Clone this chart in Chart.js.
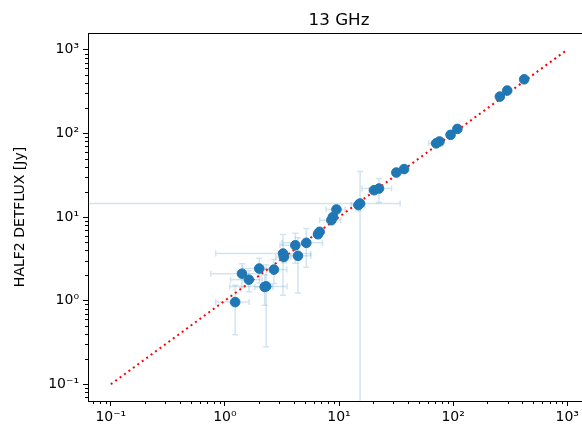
<!DOCTYPE html>
<html>
<head>
<meta charset="utf-8">
<script src="https://cdn.jsdelivr.net/npm/chart.js@4/dist/chart.umd.min.js"></script>
<style>
html, body { margin: 0; padding: 0; background: #fff; overflow: hidden; }
#wrap { position: relative; width: 582px; height: 432px; overflow: hidden; }
#fluxChart { display: block; }
</style>
</head>
<body>
<div id="wrap"><canvas id="fluxChart" width="600" height="432"></canvas></div>
<script>
// catalogue flux (x) vs HALF2 DETFLUX (y), Jy
var fluxX = [420, 298, 257, 109, 95, 76, 71, 37.2, 31.8, 22.4, 20.3, 15.3, 14.8, 9.5, 8.86, 8.57, 6.76, 6.54, 5.17, 4.14, 4.37, 3.23, 3.29, 2.69, 2.0, 1.41, 1.62, 2.3, 2.23, 1.23];
var fluxY = [443, 325, 275, 113, 96, 80, 76, 37.4, 34, 21.9, 20.9, 14.5, 13.9, 12.3, 10.0, 9.16, 6.65, 6.22, 4.91, 4.59, 3.43, 3.66, 3.33, 2.35, 2.42, 2.1, 1.78, 1.48, 1.46, 0.96];
var errX = [4, 5, 5, 3, 3, 3, 10, 2, 2, 6.5, 2, 19, 2, 1.8, 0.8, 1.8, 0.6, 0.5, 2, 1.1, 1.3, 2.4, 0.5, 0.8, 0.57, 0.66, 0.5, 1.2, 0.4, 0.4];
var errY = [4, 5, 5, 3, 3, 3, 3, 2, 2, 7, 2, 20.5, 2, 1, 0.8, 1, 0.6, 0.5, 2.4, 1.8, 2.2, 2.5, 0.5, 0.75, 0.8, 0.67, 0.5, 1.2, 0.58, 0.57];

// one-to-one line
var lineX = [0.1, 1000];

var decadeLabels = {'-1': '10⁻¹', '0': '10⁰', '1': '10¹', '2': '10²', '3': '10³'};
var axisMin = Math.pow(10, -1.2);
var axisMax = Math.pow(10, 3.2);

function logTicks(scale) {
    var t = [];
    for (var d = -2; d <= 3; d++) {
        for (var m = 1; m <= 9; m++) {
            var v = m * Math.pow(10, d);
            if (v >= axisMin && v <= axisMax) t.push({value: v, major: m === 1});
        }
    }
    scale.ticks = t;
}

function tickLabel(value, index, ticks) {
    if (!ticks[index].major) return '';
    return decadeLabels[String(Math.round(Math.log10(value)))] || '';
}

var errorBars = {
    id: 'errorBars',
    beforeDatasetsDraw: function(chart) {
        var c = chart.ctx, xs = chart.scales.x, ys = chart.scales.y, a = chart.chartArea;
        c.save();
        c.beginPath();
        c.rect(a.left, a.top, a.right - a.left, a.bottom - a.top);
        c.clip();
        c.strokeStyle = 'rgba(31,119,180,0.2)';
        c.lineWidth = 1.5;
        var cap = 3;
        for (var i = 0; i < fluxX.length; i++) {
            var x = xs.getPixelForValue(fluxX[i]);
            var y = ys.getPixelForValue(fluxY[i]);
            var lo, hi;
            // horizontal
            lo = fluxX[i] - errX[i];
            hi = xs.getPixelForValue(fluxX[i] + errX[i]);
            var x0 = lo > 0 ? xs.getPixelForValue(lo) : a.left - 10;
            c.beginPath();
            c.moveTo(x0, y); c.lineTo(hi, y);
            c.moveTo(hi, y - cap); c.lineTo(hi, y + cap);
            if (lo > 0) { c.moveTo(x0, y - cap); c.lineTo(x0, y + cap); }
            c.stroke();
            // vertical
            lo = fluxY[i] - errY[i];
            hi = ys.getPixelForValue(fluxY[i] + errY[i]);
            var y0 = lo > 0 ? ys.getPixelForValue(lo) : a.bottom + 10;
            c.beginPath();
            c.moveTo(x, y0); c.lineTo(x, hi);
            c.moveTo(x - cap, hi); c.lineTo(x + cap, hi);
            if (lo > 0) { c.moveTo(x - cap, y0); c.lineTo(x + cap, y0); }
            c.stroke();
        }
        c.restore();
    },
    afterDraw: function(chart) {
        var c = chart.ctx, xs = chart.scales.x, ys = chart.scales.y, a = chart.chartArea;
        c.save();
        c.strokeStyle = '#000';
        c.lineWidth = 1;
        // minor ticks
        c.beginPath();
        xs.ticks.forEach(function(t) {
            if (t.major) return;
            var p = Math.round(xs.getPixelForValue(t.value)) + 0.5;
            c.moveTo(p, a.bottom); c.lineTo(p, a.bottom + 3);
        });
        ys.ticks.forEach(function(t) {
            if (t.major) return;
            var p = Math.round(ys.getPixelForValue(t.value)) + 0.5;
            c.moveTo(a.left, p); c.lineTo(a.left - 3, p);
        });
        c.stroke();
        // top spine (right spine falls outside the picture)
        c.beginPath();
        c.moveTo(a.left, a.top + 0.5); c.lineTo(a.right, a.top + 0.5);
        c.stroke();
        // title over the axes
        c.fillStyle = '#000';
        c.font = '16.7px "DejaVu Sans"';
        c.textAlign = 'center';
        c.textBaseline = 'alphabetic';
        c.fillText('13 GHz', (a.left + a.right) / 2, 24.5);
        c.restore();
    }
};

Chart.defaults.font.family = '"DejaVu Sans", sans-serif';
Chart.defaults.font.size = 14;
Chart.defaults.color = '#000';

var ctx = document.getElementById('fluxChart').getContext('2d');
var chart = new Chart(ctx, {
    type: 'scatter',
    data: {
        datasets: [{
            label: 'sources',
            data: fluxX.map(function(v, i) { return {x: v, y: fluxY[i]}; }),
            backgroundColor: '#1f77b4',
            borderColor: '#1f77b4',
            borderWidth: 1,
            pointRadius: 4.8,
            order: 1
        }, {
            label: '1:1',
            data: lineX.map(function(v) { return {x: v, y: v}; }),
            showLine: true,
            borderColor: '#ff0000',
            borderWidth: 2,
            borderDash: [2, 3.5],
            pointRadius: 0,
            order: 2
        }]
    },
    options: {
        responsive: false,
        animation: false,
        events: [],
        layout: {
            padding: {top: 33, right: 10, left: 0, bottom: 0}
        },
        plugins: {
            legend: {display: false},
            tooltip: {enabled: false}
        },
        scales: {
            x: {
                type: 'logarithmic',
                min: axisMin,
                max: axisMax,
                afterBuildTicks: logTicks,
                afterFit: function(s) { s.height = 31; },
                border: {display: true, color: '#000', width: 1},
                grid: {drawOnChartArea: false, drawTicks: true, tickLength: 5, tickColor: function(c) { return c.tick && c.tick.major ? '#000' : 'rgba(0,0,0,0)'; }},
                ticks: {autoSkip: false, maxRotation: 0, padding: 3, callback: tickLabel}
            },
            y: {
                type: 'logarithmic',
                min: axisMin,
                max: axisMax,
                afterBuildTicks: logTicks,
                afterFit: function(s) { s.width = 88; },
                border: {display: true, color: '#000', width: 1},
                grid: {drawOnChartArea: false, drawTicks: true, tickLength: 5, tickColor: function(c) { return c.tick && c.tick.major ? '#000' : 'rgba(0,0,0,0)'; }},
                ticks: {autoSkip: false, padding: 4, callback: tickLabel},
                title: {display: true, text: 'HALF2 DETFLUX [Jy]', font: {size: 14}, padding: {top: 12, bottom: 0}}
            }
        }
    },
    plugins: [errorBars]
});
</script>
</body>
</html>
